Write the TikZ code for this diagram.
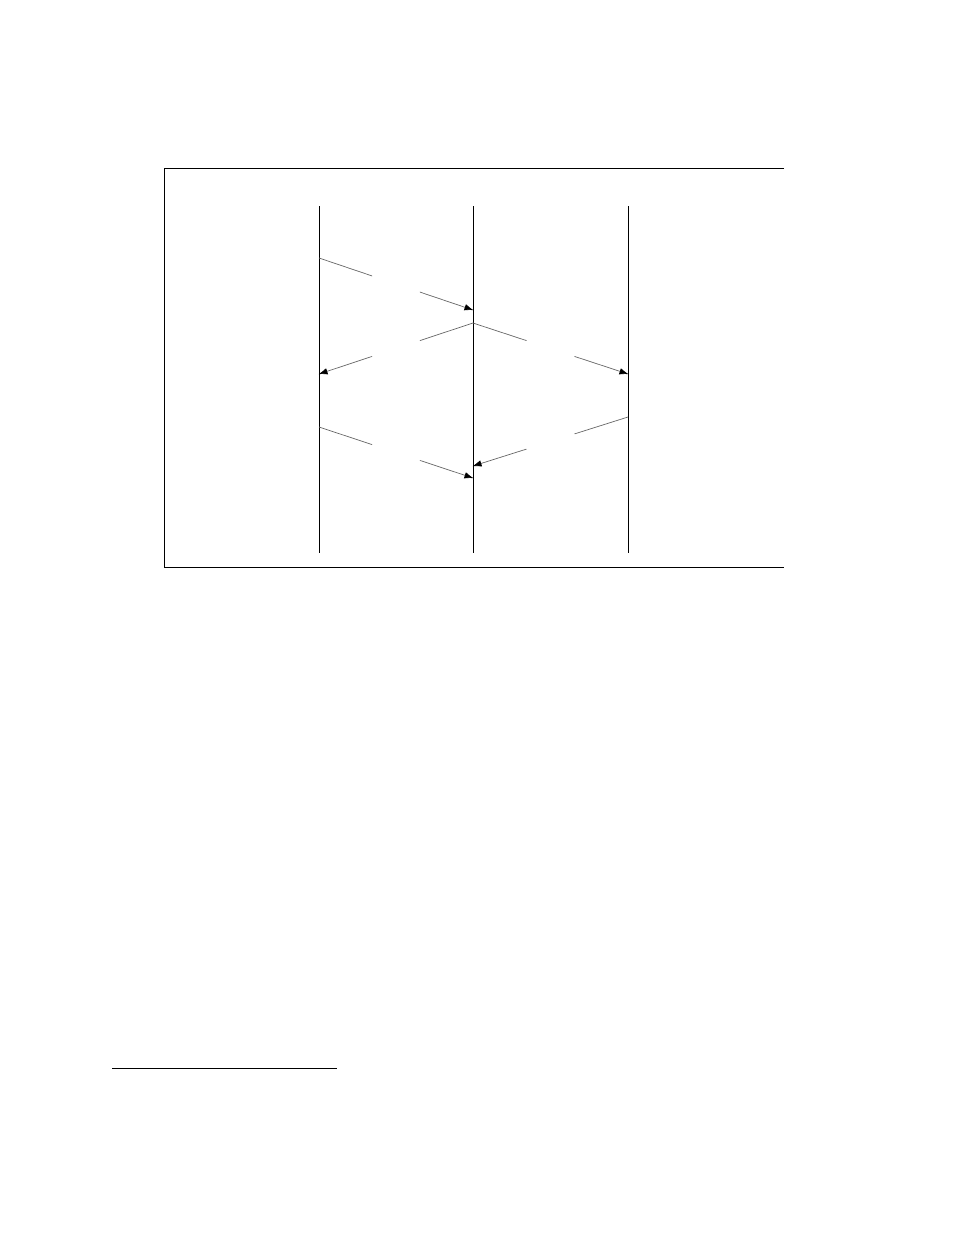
\documentclass[tikz,border=0pt]{standalone}
\usetikzlibrary{arrows.meta}
\begin{document}
\begin{tikzpicture}[x=1pt,y=-1pt,
  frame/.style={line width=1pt,black},
  lifeline/.style={line width=1pt,black},
  msg/.style={line width=0.7pt,black!60},
  msgarrow/.style={msg,-{Latex[length=9pt,width=6.5pt,black]},shorten >=-0.5pt}]
\useasboundingbox (0,0) rectangle (954,1235);
% frame (open at the right)
\coordinate (fr1) at (784,168);
\coordinate (fr2) at (164,168);
\coordinate (fr3) at (164,567);
\coordinate (fr4) at (784,567);
\draw[frame] (fr1) -- (fr2) -- (fr3) -- (fr4);
% lifelines
\coordinate (At) at (319,206); \coordinate (Ab) at (319,553);
\coordinate (Bt) at (473,206); \coordinate (Bb) at (473,553);
\coordinate (Ct) at (628,206); \coordinate (Cb) at (628,553);
\draw[lifeline] (At) -- (Ab);
\draw[lifeline] (Bt) -- (Bb);
\draw[lifeline] (Ct) -- (Cb);
% message end points
\coordinate (m1s) at (319,258); \coordinate (m1e) at (473,310);
\coordinate (m2s) at (473,323); \coordinate (m2e) at (319,374);
\coordinate (m3s) at (473,323); \coordinate (m3e) at (628,374);
\coordinate (m4s) at (319,427); \coordinate (m4e) at (473,478);
\coordinate (m5s) at (628,417); \coordinate (m5e) at (473,466);
\foreach \m in {m1,m2,m3,m4,m5}{
  \path (\m s) -- (\m e) coordinate[pos=0.345] (\m a) coordinate[pos=0.655] (\m b);
  \draw[msg] (\m s) -- (\m a);
  \draw[msgarrow] (\m b) -- (\m e);
}
% footnote rule
\coordinate (fn1) at (112,1068); \coordinate (fn2) at (337,1068);
\draw[line width=1pt] (fn1) -- (fn2);
\end{tikzpicture}
\end{document}
